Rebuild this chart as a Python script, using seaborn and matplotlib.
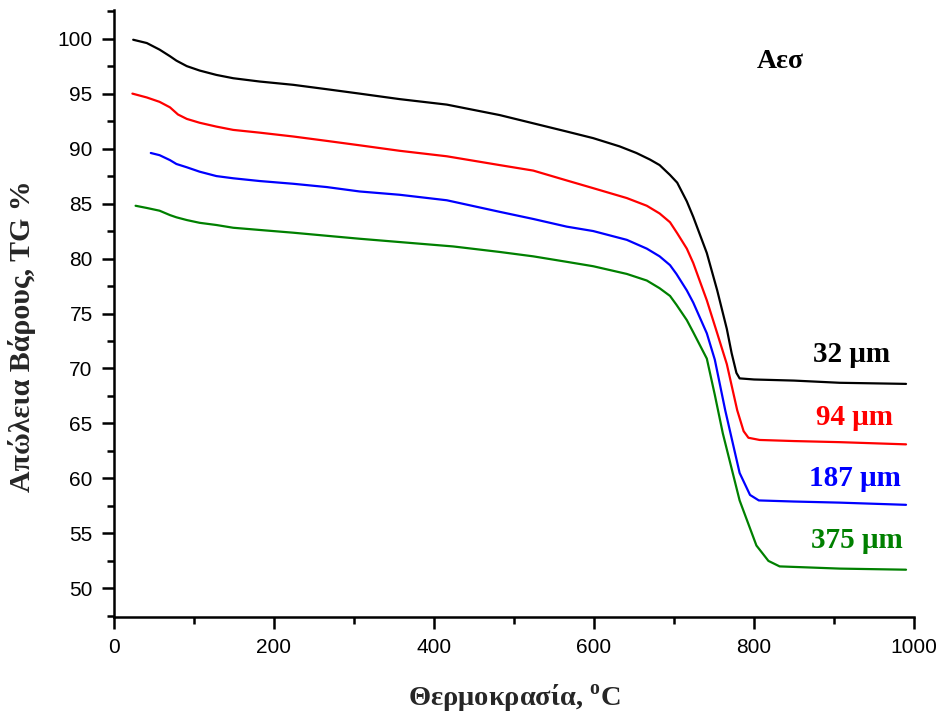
import matplotlib
matplotlib.use("Agg")
import matplotlib.pyplot as plt
import seaborn as sns
import pandas as pd
from matplotlib.ticker import MultipleLocator

# ---- data ----
black_x = [24, 41, 57, 70, 78, 91, 107, 128, 149, 182, 224, 266, 307, 357, 416, 482, 524, 566, 599, 632,
           653, 670, 682, 695, 704, 716, 724, 741, 754, 766, 772, 778, 782, 800, 850, 907, 990]
black_y = [99.9, 99.6, 99.0, 98.4, 98.0, 97.5, 97.1, 96.7, 96.4, 96.1, 95.8, 95.4, 95.0, 94.5, 94.0, 93.05, 92.3, 91.55, 90.95, 90.2,
           89.6, 89.0, 88.5, 87.6, 86.9, 85.2, 83.8, 80.5, 77.1, 73.6, 71.4, 69.6, 69.1, 69.0, 68.9, 68.7, 68.6]

red_x = [23, 41, 57, 70, 80, 91, 107, 128, 149, 182, 224, 266, 307, 357, 416, 482, 524, 566, 599, 641,
         666, 682, 695, 704, 716, 724, 741, 754, 766, 779, 787, 793, 807, 850, 907, 990]
red_y = [95.0, 94.65, 94.25, 93.75, 93.1, 92.7, 92.35, 92.0, 91.7, 91.45, 91.1, 90.7, 90.3, 89.8, 89.3, 88.5, 88.0, 87.1, 86.4, 85.5,
         84.8, 84.1, 83.3, 82.3, 80.9, 79.6, 76.2, 73.2, 70.4, 66.2, 64.3, 63.7, 63.5, 63.4, 63.3, 63.1]

blue_x = [46, 57, 70, 78, 91, 107, 128, 149, 182, 224, 266, 307, 357, 416, 482, 524, 566, 599, 641, 666,
          682, 695, 703, 716, 724, 741, 751, 764, 782, 795, 806, 850, 907, 990]
blue_y = [89.6, 89.4, 88.95, 88.6, 88.3, 87.9, 87.5, 87.3, 87.05, 86.8, 86.5, 86.1, 85.8, 85.3, 84.25, 83.6, 82.9, 82.5, 81.7, 80.9,
          80.2, 79.4, 78.6, 77.1, 76.0, 73.2, 70.8, 66.2, 60.5, 58.5, 58.0, 57.9, 57.8, 57.6]

green_x = [27, 41, 57, 70, 78, 91, 107, 128, 149, 182, 224, 266, 307, 357, 424, 482, 524, 566, 599, 641,
           666, 682, 695, 703, 716, 724, 741, 751, 761, 782, 803, 818, 832, 870, 907, 990]
green_y = [84.8, 84.6, 84.35, 83.95, 83.75, 83.5, 83.25, 83.05, 82.8, 82.6, 82.35, 82.07, 81.8, 81.5, 81.1, 80.6, 80.2, 79.7, 79.3, 78.6,
           78.0, 77.3, 76.6, 75.8, 74.4, 73.3, 70.9, 67.6, 64.1, 58.0, 53.9, 52.5, 52.0, 51.9, 51.8, 51.7]

series_names = ["32 μm", "94 μm", "187 μm", "375 μm"]
series_colors = ["black", "red", "blue", "green"]
label_x = [922, 926, 926, 929]
label_y = [71.3, 65.5, 60.0, 54.4]

frames = []
for name, xs, ys in zip(series_names,
                        [black_x, red_x, blue_x, green_x],
                        [black_y, red_y, blue_y, green_y]):
    frames.append(pd.DataFrame({"T": xs, "TG": ys, "size": name}))
df = pd.concat(frames, ignore_index=True)

sns.set_style("ticks")
plt.rcParams["font.family"] = ["Liberation Sans", "DejaVu Sans"]
plt.rcParams["mathtext.fontset"] = "custom"
plt.rcParams["mathtext.rm"] = "Liberation Serif:bold"

fig = plt.figure(figsize=(9.46, 7.18), dpi=100)
ax = fig.add_axes([0.1205, 0.1407, 0.8457, 0.8453])

sns.lineplot(data=df, x="T", y="TG", hue="size", palette=series_colors,
             hue_order=series_names, sort=False, estimator=None,
             linewidth=1.6, legend=False, ax=ax)

ax.set_xlim(0, 1000)
ax.set_ylim(47.4, 102.6)
ax.xaxis.set_major_locator(MultipleLocator(200))
ax.xaxis.set_minor_locator(MultipleLocator(100))
ax.yaxis.set_major_locator(MultipleLocator(5))
ax.yaxis.set_minor_locator(MultipleLocator(2.5))

for s in ["top", "right"]:
    ax.spines[s].set_visible(False)
for s in ["left", "bottom"]:
    ax.spines[s].set_linewidth(1.8)
    ax.spines[s].set_color("black")

ax.tick_params(which="major", direction="out", length=8.8, width=1.8,
               labelsize=15, pad=6.5, colors="black")
ax.tick_params(which="minor", direction="out", length=5, width=1.8, colors="black")

serif = ["Liberation Serif", "DejaVu Serif"]
ax.set_xlabel("Θερμοκρασία, $^{\\rm o}$C", fontsize=20.5, fontweight="bold",
              family=serif, labelpad=18)
ax.set_ylabel("Απώλεια Βάρους, TG %", fontsize=21.5, fontweight="bold",
              family=serif)
ax.yaxis.set_label_coords(-0.0975, 0.462)

for name, c, lx, ly in zip(series_names, series_colors, label_x, label_y):
    ax.text(lx, ly, name, color=c, fontsize=21, fontweight="bold",
            family=serif, ha="center", va="center")

ax.text(833, 97.9, "Αεσ", color="black", fontsize=20, fontweight="bold",
        family=serif, ha="center", va="center")

fig.savefig("out.png", dpi=100)
